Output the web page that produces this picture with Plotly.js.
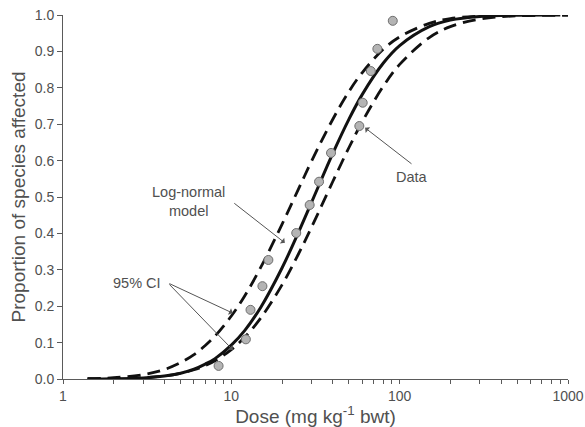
<!DOCTYPE html>
<html>
<head>
<meta charset="utf-8">
<script src="https://cdn.plot.ly/plotly-3.0.1.min.js"></script>
<style>html,body{margin:0;padding:0;background:#fff;}#chart{width:585px;height:427px;}</style>
</head>
<body>
<div id="chart"></div>
<script>
// Observed data (dose mg/kg bwt, proportion of species affected)
const dataDose = [8.4, 12.2, 13.0, 15.3, 16.6, 24.3, 29.2, 33.2, 39.1, 57.6, 60.3, 67.4, 73.7, 91.0];
const dataProp = [0.036, 0.109, 0.19, 0.255, 0.327, 0.401, 0.478, 0.542, 0.621, 0.695, 0.759, 0.846, 0.907, 0.984];

// Log-normal model curve
const modelDose = [1.4, 2, 3, 4, 5, 6, 7, 8, 10, 12, 15, 20, 25, 30, 40, 50, 60, 80, 100, 150, 200, 300, 500, 900];
const modelProp = [0.0001, 0.0007, 0.003, 0.008, 0.016, 0.027, 0.041, 0.056, 0.093, 0.133, 0.198, 0.305, 0.402, 0.486, 0.619, 0.714, 0.782, 0.868, 0.916, 0.968, 0.986, 0.996, 0.9995, 1.0];

// Upper 95% CI (left dashed curve)
const upperDose = [1.4, 2, 3, 4, 5, 6, 7, 8, 10, 12, 15, 20, 25, 30, 40, 50, 60, 80, 100, 150, 200, 300, 500, 1000];
const upperProp = [0.001, 0.0036, 0.012, 0.026, 0.045, 0.067, 0.092, 0.118, 0.173, 0.228, 0.308, 0.425, 0.521, 0.599, 0.713, 0.79, 0.842, 0.906, 0.94, 0.977, 0.99, 0.997, 0.9995, 1.0];

// Lower 95% CI (right dashed curve)
const lowerDose = [1.4, 2, 3, 4, 5, 6, 7, 8, 10, 12, 15, 20, 25, 30, 40, 50, 60, 80, 100, 150, 200, 300, 500, 1000];
const lowerProp = [0.0002, 0.0008, 0.0034, 0.0083, 0.0157, 0.0253, 0.0369, 0.0502, 0.0808, 0.1145, 0.1685, 0.2586, 0.3427, 0.4176, 0.5418, 0.636, 0.707, 0.8045, 0.8643, 0.938, 0.968, 0.989, 0.9978, 0.9998];

const xTickVals = [1, 10, 100, 1000];
const xTickText = ['1', '10', '100', '1000'];
const xMinorVals = [2,3,4,5,6,7,8,9,20,30,40,50,60,70,80,90,200,300,400,500,600,700,800,900];
const yTickVals = [0, 0.1, 0.2, 0.3, 0.4, 0.5, 0.6, 0.7, 0.8, 0.9, 1.0];

const lg = Math.log10;
const txt = '#505050';
const axc = '#5a5a5a';
const FONT = 'Liberation Sans, Arial, sans-serif';

const traces = [
  {x: upperDose, y: upperProp, mode: 'lines', line: {color: '#111', width: 2.8, dash: '13px,7px', shape: 'spline'}, cliponaxis: false, hoverinfo: 'skip'},
  {x: lowerDose, y: lowerProp, mode: 'lines', line: {color: '#111', width: 2.8, dash: '13px,7px', shape: 'spline'}, cliponaxis: false, hoverinfo: 'skip'},
  {x: modelDose, y: modelProp, mode: 'lines', line: {color: '#111', width: 3, shape: 'spline'}, cliponaxis: false, hoverinfo: 'skip'},
  {x: dataDose, y: dataProp, mode: 'markers', marker: {size: 9, color: '#b4b4b4', line: {color: '#6e6e6e', width: 1}}, cliponaxis: false}
];

function arrow(hx, hy, tx, ty) {
  return {x: lg(hx), y: hy, ax: lg(tx), ay: ty, xref: 'x', yref: 'y', axref: 'x', ayref: 'y',
          text: '', showarrow: true, arrowhead: 1, arrowsize: 1.2, arrowwidth: 1, arrowcolor: '#555'};
}

const annotations = [
  {x: 188, y: 202, text: 'Log-normal<br>model', showarrow: false, font: {family: FONT, size: 14.5, color: txt}},
  {x: 137, y: 283, text: '95% CI', showarrow: false, font: {family: FONT, size: 14.5, color: txt}},
  {x: 412, y: 177, text: 'Data', showarrow: false, font: {family: FONT, size: 14.5, color: txt}},
  arrow(20.8, 0.374, 10.2, 0.486),
  arrow(10.2, 0.181, 4.2, 0.264),
  arrow(10.2, 0.080, 4.2, 0.264),
  arrow(62.3, 0.69, 120, 0.588)
];
// convert pixel-positioned text annotations to paper coords
const L = 63, R = 17, T = 15, B = 48, W = 585, H = 427;
for (const a of annotations.slice(0, 3)) {
  a.xref = 'paper'; a.yref = 'paper';
  a.x = (a.x - L) / (W - L - R);
  a.y = 1 - (a.y - T) / (H - T - B);
  a.xanchor = 'center'; a.yanchor = 'middle';
}

const layout = {
  width: W, height: H,
  margin: {l: L, r: R, t: T, b: B},
  paper_bgcolor: '#fff', plot_bgcolor: '#fff',
  showlegend: false,
  font: {family: FONT, color: txt},
  xaxis: {
    type: 'log', range: [0, 3],
    tickmode: 'array', tickvals: xTickVals, ticktext: xTickText,
    ticks: 'outside', ticklen: 4, tickwidth: 1, tickcolor: axc,
    minor: {tickmode: 'array', tickvals: xMinorVals, ticks: 'outside', ticklen: 4, tickwidth: 1, tickcolor: axc},
    showline: true, linecolor: axc, linewidth: 1, showgrid: false, zeroline: false,
    tickfont: {family: FONT, size: 14, color: txt},
    title: {text: 'Dose (mg kg<sup>-1</sup> bwt)', font: {family: FONT, size: 19, color: txt}, standoff: 4},
    automargin: false
  },
  yaxis: {
    range: [0, 1], tickmode: 'array', tickvals: yTickVals, tickformat: '.1f',
    ticks: 'outside', ticklen: 5, tickwidth: 1, tickcolor: axc,
    showline: true, linecolor: axc, linewidth: 1, showgrid: false, zeroline: false,
    tickfont: {family: FONT, size: 14, color: txt},
    title: {text: 'Proportion of species affected', font: {family: FONT, size: 19, color: txt}, standoff: 4},
    automargin: false
  },
  annotations: annotations
};

Plotly.newPlot('chart', traces, layout, {displayModeBar: false, staticPlot: true});
</script>
</body>
</html>
